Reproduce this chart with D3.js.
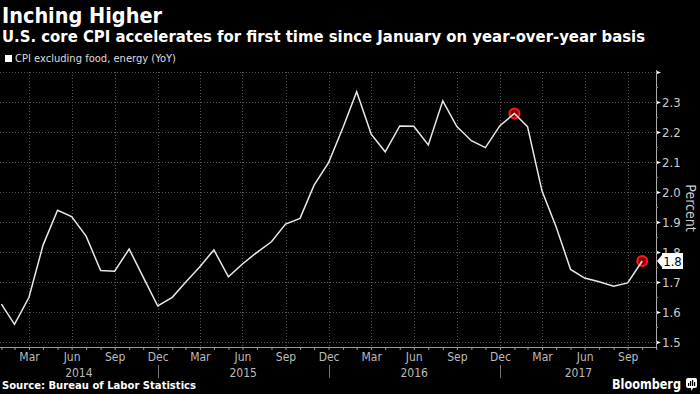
<!DOCTYPE html>
<html>
<head>
<meta charset="utf-8">
<script src="https://cdn.jsdelivr.net/npm/d3@7"></script>
<style>
  body { margin: 0; background: #000; }
  svg { display: block; font-family: "DejaVu Sans", sans-serif; }
</style>
</head>
<body>
<div id="chart"></div>
<script>
// CPI excluding food, energy (YoY), Jan 2014 .. Oct 2017
var startYear = 2014;
var cpiValues = [
    1.626, 1.559, 1.649, 1.823, 1.939, 1.918, 1.853, 1.738, 1.736, 1.810, 1.716, 1.620,
    1.649, 1.698, 1.751, 1.807, 1.717, 1.760, 1.799, 1.834, 1.893, 1.912, 2.023, 2.098,
    2.216, 2.334, 2.193, 2.134, 2.220, 2.219, 2.157, 2.304, 2.218, 2.171, 2.148, 2.221,
    2.262, 2.218, 2.003, 1.884, 1.742, 1.713, 1.701, 1.686, 1.697, 1.770
];
var highlightIdx = [36, 45];
var monthNames = ["Jan", "Feb", "Mar", "Apr", "May", "Jun", "Jul", "Aug", "Sep", "Oct", "Nov", "Dec"];
var yearLabels = [2014, 2015, 2016, 2017];
var yTickValues = [1.5, 1.6, 1.7, 1.8, 1.9, 2.0, 2.1, 2.2, 2.3];

var svgWidth = 700;
var svgHeight = 394;
var plotLeft = 0, plotRight = 657, plotTop = 72, plotBottom = 347;

// month-end dates, Bloomberg style
function monthEnd(i) { return new Date(startYear, i + 1, 0); }

var data = cpiValues.map(function(v, i) { return { date: monthEnd(i), value: v }; });

var svg = d3.select("#chart").append("svg")
    .attr("width", svgWidth)
    .attr("height", svgHeight);

var x = d3.scaleTime()
    .domain([new Date(2014, 2, 31), new Date(2017, 8, 30)])
    .range([29, 627.7]);

var y = d3.scaleLinear()
    .domain([1.5, 2.4])
    .range([342, 72]);

svg.append("defs").append("clipPath").attr("id", "clip")
    .append("rect")
    .attr("x", plotLeft).attr("y", 0)
    .attr("width", plotRight - plotLeft).attr("height", svgHeight);

// titles
svg.append("text")
    .attr("x", 2).attr("y", 23)
    .attr("fill", "#fff")
    .attr("font-size", 22).attr("font-weight", "bold")
    .attr("textLength", 160).attr("lengthAdjust", "spacingAndGlyphs")
    .text("Inching Higher");

svg.append("text")
    .attr("x", 2).attr("y", 42)
    .attr("fill", "#fff")
    .attr("font-size", 16).attr("font-weight", "bold")
    .attr("textLength", 643).attr("lengthAdjust", "spacingAndGlyphs")
    .text("U.S. core CPI accelerates for first time since January on year-over-year basis");

// legend
svg.append("rect")
    .attr("x", 5).attr("y", 55).attr("width", 7).attr("height", 7)
    .attr("fill", "#fff");
svg.append("text")
    .attr("x", 15).attr("y", 62)
    .attr("fill", "#ddd")
    .attr("font-size", 11)
    .attr("textLength", 161).attr("lengthAdjust", "spacingAndGlyphs")
    .text("CPI excluding food, energy (YoY)");

// grid
var allMonths = d3.range(-1, 48).map(monthEnd).filter(function(d) {
    return x(d) >= plotLeft && x(d) <= plotRight;
});
var quarterMonths = allMonths.filter(function(d) { return d.getMonth() % 3 === 2; });

var grid = svg.append("g").attr("class", "grid");
grid.selectAll("line.h")
    .data(yTickValues.concat([2.4]))
    .enter().append("line")
    .attr("class", "h")
    .attr("x1", plotLeft).attr("x2", plotRight)
    .attr("y1", function(d) { return y(d) + 0.5; })
    .attr("y2", function(d) { return y(d) + 0.5; })
    .attr("stroke", "#555").attr("stroke-dasharray", "1,2");

grid.selectAll("line.v")
    .data(quarterMonths)
    .enter().append("line")
    .attr("class", "v")
    .attr("x1", function(d) { return Math.round(x(d)) + 0.5; })
    .attr("x2", function(d) { return Math.round(x(d)) + 0.5; })
    .attr("y1", plotTop).attr("y2", plotBottom)
    .attr("stroke", "#555").attr("stroke-dasharray", "1,2");

// x axis
var bottomAxis = d3.axisBottom(x)
    .tickValues(allMonths)
    .tickSize(3)
    .tickSizeOuter(0)
    .tickFormat(function(d) { return d.getMonth() % 3 === 2 ? monthNames[d.getMonth()] : ""; });

var xAxisG = svg.append("g")
    .attr("transform", "translate(0," + plotBottom + ")")
    .call(bottomAxis);
xAxisG.select(".domain").attr("stroke", "#999").attr("d", "M" + plotLeft + ",0.5H" + plotRight);
xAxisG.selectAll(".tick line").attr("stroke", "#999");
xAxisG.selectAll(".tick text")
    .attr("fill", "#bbb").attr("font-size", 12).attr("y", 5)
    .attr("font-family", "DejaVu Sans Condensed, DejaVu Sans, sans-serif");

// year labels + separators
yearLabels.forEach(function(yr) {
    var x0 = Math.max(plotLeft, x(new Date(yr - 1, 11, 31)));
    var x1 = Math.min(plotRight, x(new Date(yr, 11, 31)));
    svg.append("text")
        .attr("x", (x0 + x1) / 2).attr("y", 377)
        .attr("text-anchor", "middle")
        .attr("fill", "#bbb").attr("font-size", 12)
        .attr("font-family", "DejaVu Sans Condensed, DejaVu Sans, sans-serif")
        .text(yr);
    if (x(new Date(yr, 11, 31)) < plotRight) {
        var sx = Math.round(x(new Date(yr, 11, 31))) + 0.5;
        svg.append("line")
            .attr("x1", sx).attr("x2", sx)
            .attr("y1", 365).attr("y2", 378)
            .attr("stroke", "#777");
    }
});

// y axis (right)
var minorTicks = d3.range(0, 19).map(function(i) { return +(1.5 + i * 0.05).toFixed(2); });
var rightAxis = d3.axisRight(y)
    .tickValues(minorTicks)
    .tickSize(2)
    .tickSizeOuter(0)
    .tickFormat(function(d) {
        var isMajor = Math.abs(d * 10 - Math.round(d * 10)) < 1e-6;
        return isMajor && d < 2.35 ? d3.format(".1f")(d) : "";
    });

var yAxisG = svg.append("g")
    .attr("transform", "translate(" + (plotRight - 1) + ",0)")
    .call(rightAxis);
yAxisG.select(".domain").attr("stroke", "#aaa").attr("d", "M0.5,70V349");
yAxisG.selectAll(".tick line").attr("stroke", "#888");
yAxisG.selectAll(".tick text")
    .attr("fill", "#ccc").attr("font-size", 13).attr("x", 6)
    .attr("font-family", "DejaVu Sans Condensed, DejaVu Sans, sans-serif");

// major tick flags
yAxisG.selectAll(".tick")
    .filter(function(d) { return Math.abs(d * 10 - Math.round(d * 10)) < 1e-6; })
    .append("path")
    .attr("d", "M1,-1.5L5,0L1,1.5Z")
    .attr("fill", "#fff");

svg.append("text")
    .attr("transform", "translate(686,208) rotate(90)")
    .attr("text-anchor", "middle")
    .attr("fill", "#ccc").attr("font-size", 14)
    .attr("font-family", "DejaVu Sans Condensed, DejaVu Sans, sans-serif")
    .text("Percent");

// highlighted points
var plot = svg.append("g").attr("clip-path", "url(#clip)");
plot.selectAll("circle")
    .data(highlightIdx.map(function(i) { return data[i]; }))
    .enter().append("circle")
    .attr("cx", function(d) { return x(d.date); })
    .attr("cy", function(d) { return y(d.value); })
    .attr("r", 5)
    .attr("fill", "#8a0000")
    .attr("stroke", "#ff1a1a")
    .attr("stroke-width", 2);

// line
var line = d3.line()
    .x(function(d) { return x(d.date); })
    .y(function(d) { return y(d.value); });

plot.append("path")
    .datum(data)
    .attr("d", line)
    .attr("fill", "none")
    .attr("stroke", "#e8e8e8")
    .attr("stroke-width", 1.5);

// last value tag
var last = data[data.length - 1];
var ty = y(last.value);
svg.append("path")
    .attr("d", "M" + plotRight + "," + ty + "L662," + (ty - 6) + "V" + (ty - 8) + "H683V" + (ty + 8) + "H662V" + (ty + 6) + "Z")
    .attr("fill", "#fff");
svg.append("text")
    .attr("x", 672.5).attr("y", ty + 4.5)
    .attr("text-anchor", "middle")
    .attr("fill", "#000").attr("font-size", 13)
    .attr("font-family", "DejaVu Sans Condensed, DejaVu Sans, sans-serif")
    .text(d3.format(".1f")(last.value));

// footer
svg.append("text")
    .attr("x", 2).attr("y", 389)
    .attr("fill", "#fff").attr("font-size", 11).attr("font-weight", "bold")
    .attr("textLength", 194).attr("lengthAdjust", "spacingAndGlyphs")
    .text("Source: Bureau of Labor Statistics");

svg.append("text")
    .attr("x", 612).attr("y", 389)
    .attr("fill", "#fff").attr("font-size", 14).attr("font-weight", "bold")
    .attr("textLength", 69).attr("lengthAdjust", "spacingAndGlyphs")
    .text("Bloomberg");

var logo = svg.append("g").attr("transform", "translate(686,378)");
logo.append("rect").attr("width", 11).attr("height", 10).attr("rx", 2).attr("fill", "#fff");
logo.append("path").attr("d", "M5,10L5.5,13L7,10Z").attr("fill", "#fff");
[[2, 5], [4, 3], [6, 2], [8, 4]].forEach(function(b) {
    logo.append("rect").attr("x", b[0]).attr("y", b[1]).attr("width", 1.2).attr("height", 8 - b[1])
        .attr("fill", "#000");
});
</script>
</body>
</html>
